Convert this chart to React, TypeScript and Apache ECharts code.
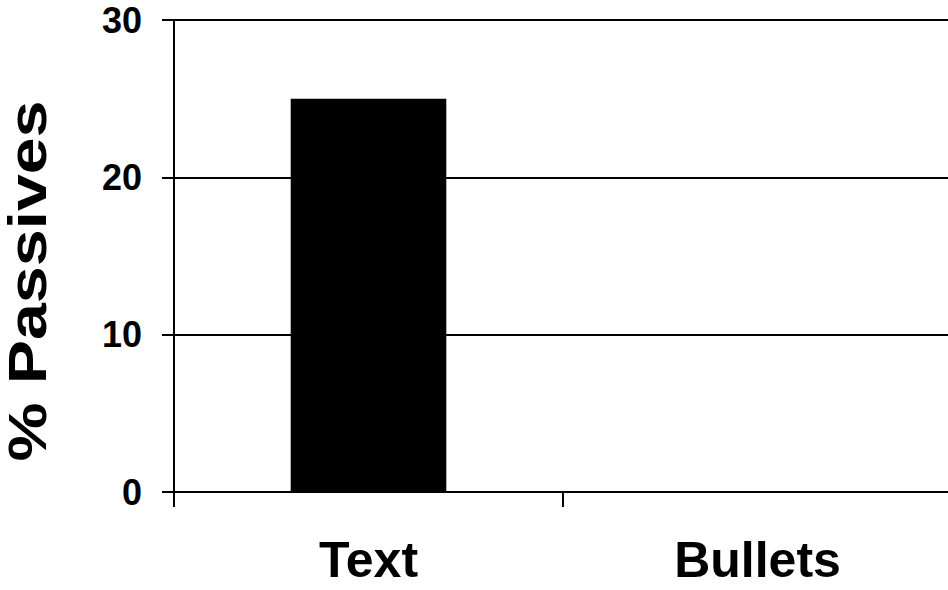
import React, { useEffect, useRef } from "react";
import * as echarts from "echarts";

const categories = ["Text", "Bullets"];
const passives = [25, 0];
const yTitle = "% Passives";

export default function App() {
  const ref = useRef<HTMLDivElement>(null);
  useEffect(() => {
    if (!ref.current) return;
    const chart = echarts.init(ref.current, null, { renderer: "svg" });
    const font = "Liberation Sans, Arial, sans-serif";
    chart.setOption({
      animation: false,
      backgroundColor: "#ffffff",
      grid: { left: 174, top: 20, bottom: 98, right: 4, containLabel: false },
      xAxis: {
        type: "category",
        data: categories,
        boundaryGap: true,
        axisLine: { show: true, lineStyle: { color: "#000", width: 2 } },
        axisTick: { show: true, length: 15, alignWithLabel: false, lineStyle: { color: "#000", width: 2 } },
        axisLabel: { color: "#000", fontSize: 50, fontWeight: "bold", fontFamily: font, margin: 43 },
        splitLine: { show: false },
      },
      yAxis: {
        type: "value",
        min: 0,
        max: 30,
        interval: 10,
        axisLine: { show: true, lineStyle: { color: "#000", width: 2 } },
        axisTick: { show: true, length: 12, lineStyle: { color: "#000", width: 2 } },
        axisLabel: { color: "#000", fontSize: 36, fontWeight: "bold", fontFamily: font, margin: 32 },
        splitLine: { show: true, lineStyle: { color: "#000", width: 2 } },
      },
      graphic: [
        {
          type: "text",
          x: 28,
          y: 281,
          rotation: Math.PI / 2,
          scaleX: 1.25,
          style: {
            text: yTitle,
            font: `bold 53px ${font}`,
            fill: "#000",
            textAlign: "center",
            textVerticalAlign: "middle",
          },
        },
      ],
      series: [
        {
          type: "bar",
          data: passives,
          barWidth: "40%",
          itemStyle: { color: "#000" },
        },
      ],
    });
    return () => chart.dispose();
  }, []);
  return (
    <div style={{ position: "fixed", left: 0, top: 0, width: 948, height: 590, overflow: "hidden" }}>
      <div
        ref={ref}
        style={{ position: "absolute", left: 0, top: 0, width: 956, height: 590 }}
      />
    </div>
  );
}
